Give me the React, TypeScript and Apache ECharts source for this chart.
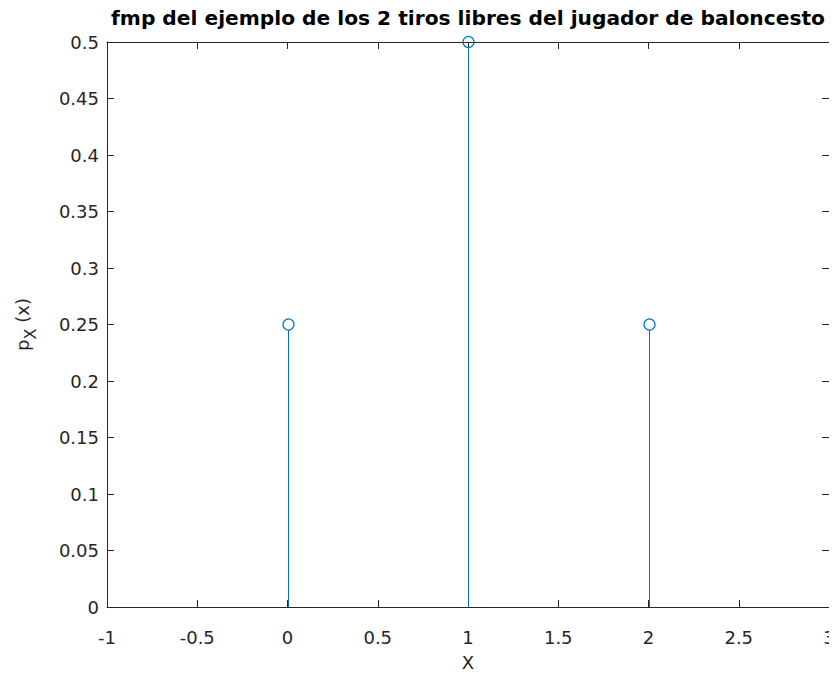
import React, { useEffect, useRef } from "react";
import * as echarts from "echarts";

const xValues = [0, 1, 2];
const pValues = [0.25, 0.5, 0.25];
const titleText = "fmp del ejemplo de los 2 tiros libres del jugador de baloncesto";
const xName = "X";

const FONT = "'DejaVu Sans', 'Liberation Sans', Arial, sans-serif";
const AX = "#262626";
const STEM = "#0072BD";

export default function App() {
  const ref = useRef<HTMLDivElement>(null);
  useEffect(() => {
    const chart = echarts.init(ref.current!, null, { renderer: "svg" });
    const data = xValues.map((x, i) => [x, pValues[i]]);
    const baseAxis = {
      axisLine: { show: true, onZero: false, lineStyle: { color: AX, width: 1 } },
      axisTick: { show: true, inside: true, length: 7, lineStyle: { color: AX } },
      splitLine: { show: false },
    };
    chart.setOption({
      animation: false,
      backgroundColor: "#fff",
      title: {
        text: titleText,
        left: 468,
        textAlign: "center",
        top: 8,
        padding: 0,
        textStyle: { fontFamily: FONT, fontSize: 20.2, fontWeight: "bold", color: "#000" },
      },
      grid: { left: 107, right: 8, top: 42, bottom: 71, outerBoundsMode: "none", containLabel: false },
      xAxis: [
        {
          ...baseAxis,
          type: "value",
          min: -1,
          max: 3,
          interval: 0.5,
          position: "bottom",
          name: xName,
          nameLocation: "middle",
          nameGap: 46,
          nameTextStyle: { fontFamily: FONT, fontSize: 18, color: AX, verticalAlign: "top" },
          axisLabel: { fontFamily: FONT, fontSize: 18, color: AX, margin: 21 },
        },
        {
          ...baseAxis,
          type: "value",
          min: -1,
          max: 3,
          interval: 0.5,
          position: "top",
          axisLabel: { show: false },
        },
      ],
      yAxis: [
        {
          ...baseAxis,
          type: "value",
          min: 0,
          max: 0.5,
          interval: 0.05,
          position: "left",
          name: "{a|p}{b|X}{a| (x)}",
          nameLocation: "middle",
          nameGap: 76,
          nameRotate: 90,
          nameTextStyle: {
            fontFamily: FONT,
            color: AX,
            rich: {
              a: { fontFamily: FONT, fontSize: 18, color: AX, verticalAlign: "bottom", lineHeight: 26 },
              b: { fontFamily: FONT, fontSize: 16, color: AX, verticalAlign: "bottom", lineHeight: 16, padding: [0, 0, -7, 0] },
            },
          },
          axisLabel: { fontFamily: FONT, fontSize: 18, color: AX, margin: 8 },
        },
        {
          ...baseAxis,
          type: "value",
          min: 0,
          max: 0.5,
          interval: 0.05,
          position: "right",
          axisLabel: { show: false },
        },
      ],
      series: [
        {
          type: "custom",
          xAxisIndex: 0,
          yAxisIndex: 0,
          data,
          clip: false,
          renderItem: (params: any, api: any) => {
            const x = api.value(0);
            const y = api.value(1);
            const top = api.coord([x, y]);
            const base = api.coord([x, 0]);
            const cx = Math.round(top[0]) + 0.5;
            return {
              type: "group",
              children: [
                {
                  type: "line",
                  shape: { x1: cx, y1: base[1], x2: cx, y2: top[1] + 5.5 },
                  style: { stroke: STEM, lineWidth: 1 },
                },
                {
                  type: "circle",
                  shape: { cx, cy: top[1], r: 5.5 },
                  style: { stroke: STEM, fill: "none", lineWidth: 1.2 },
                },
              ],
            };
          },
        },
      ],
    });
    return () => chart.dispose();
  }, []);
  return <div ref={ref} style={{ width: 837, height: 678, margin: -8 }} />;
}
